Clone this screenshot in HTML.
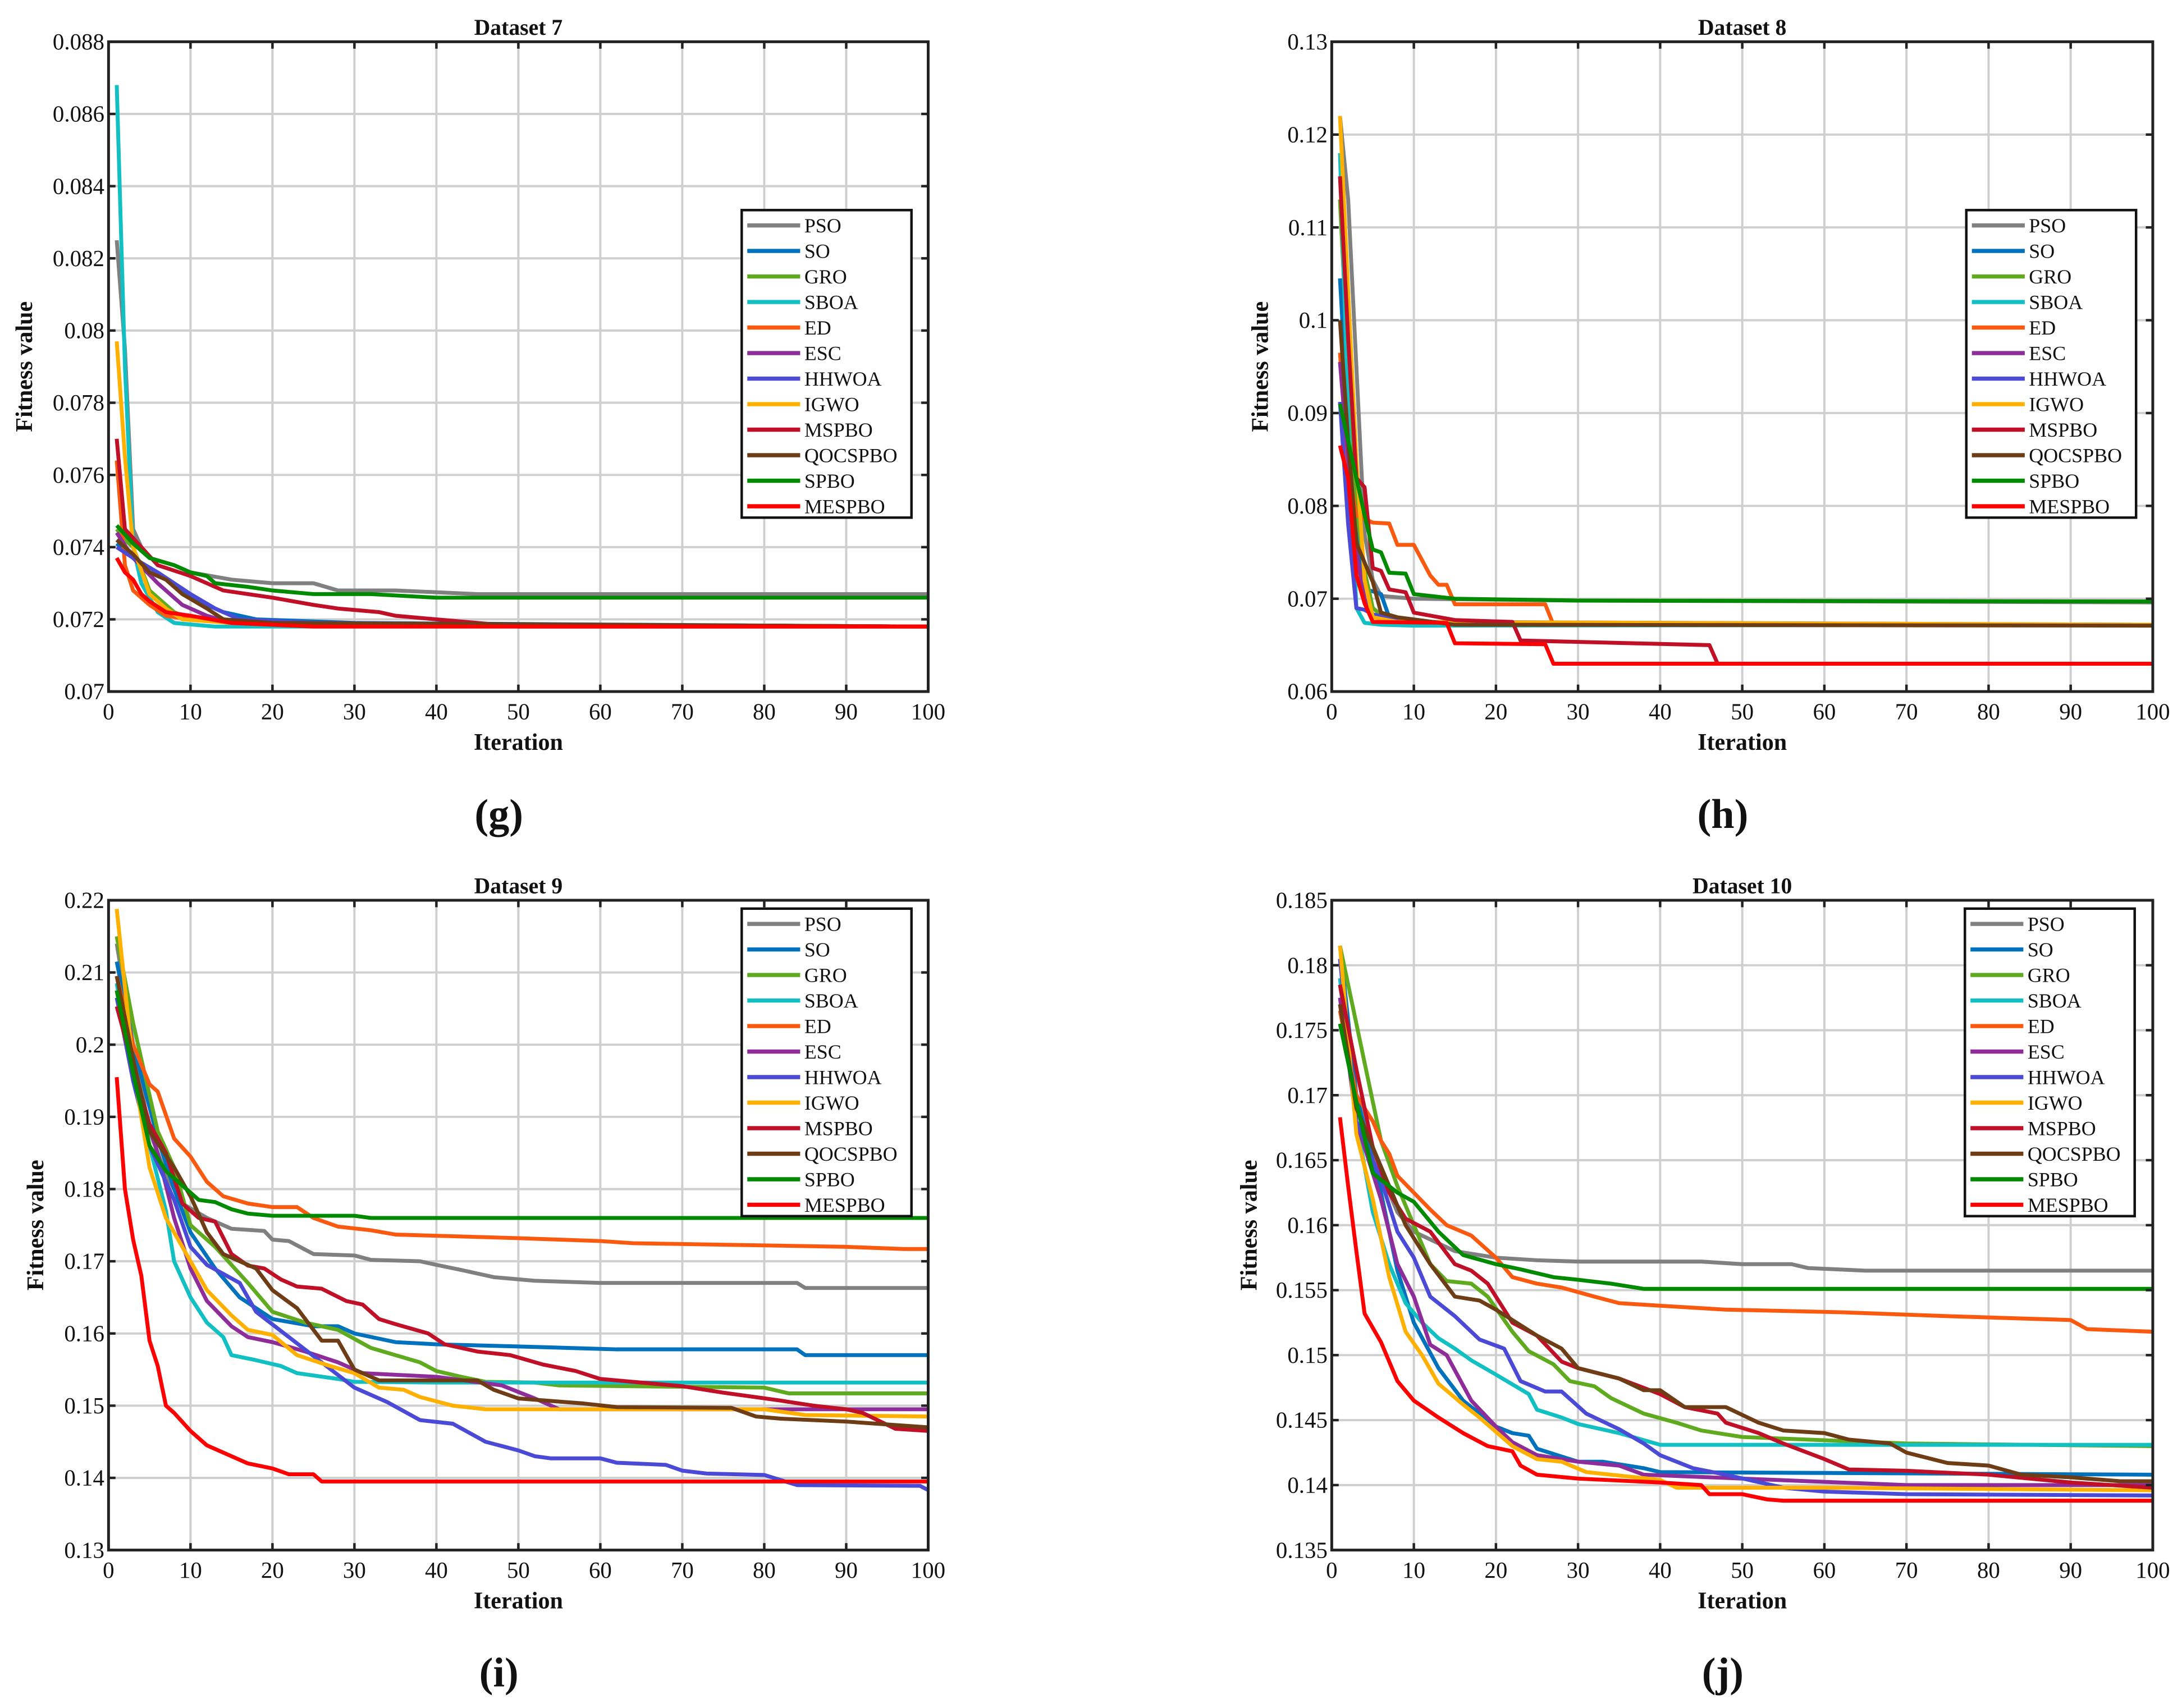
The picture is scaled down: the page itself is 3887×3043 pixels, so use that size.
<!DOCTYPE html>
<html><head><meta charset="utf-8">
<style>
html,body{margin:0;padding:0;background:#fff;}
svg{display:block;}
text{font-family:"Liberation Serif","DejaVu Serif",serif;fill:#111;}
</style></head>
<body>
<svg id="fig" xmlns="http://www.w3.org/2000/svg" width="3887" height="3043" viewBox="0 0 1568 1227.5" preserveAspectRatio="none"></svg>
<script>
const algoNames = ["PSO","SO","GRO","SBOA","ED","ESC","HHWOA","IGWO","MSPBO","QOCSPBO","SPBO","MESPBO"];
const algoColors = ["#808080","#0072BD","#5FAA1E","#12C0C4","#FA5A0F","#8E2C9A","#4A4AD6","#FFB000","#C01028","#6E3D15","#008A00","#FF0000"];

// Dataset 7: iterations and fitness values per algorithm
const d7Iter = [
 [1,2,3,4,5,8,10,15,20,25,28,35,45,100],
 [1,3,6,10,14,18,30,100],
 [1,2,3,5,8,10,20,100],
 [1,2,3,4,6,8,13,100],
 [1,2,3,5,7,10,20,100],
 [1,3,6,9,12,15,100],
 [1,3,6,10,13,16,25,100],
 [1,2,3,5,7,9,15,100],
 [1,2,4,6,10,12,14,17,20,25,28,33,35,45,50,100],
 [1,3,5,7,9,12,14,20,100],
 [1,3,5,8,10,12,13,17,20,25,32,40,100],
 [1,2,3,4,5,7,10,15,25,100]];
const d7Val = [
 [.0825,.0795,.0745,.0740,.0737,.0735,.0733,.0731,.0730,.0730,.0728,.0728,.0727,.0727],
 [.0741,.0737,.0733,.0726,.0722,.0720,.0719,.0718],
 [.0745,.0742,.0740,.0728,.0722,.0720,.0719,.0718],
 [.0868,.0790,.0740,.0730,.0722,.0719,.0718,.0718],
 [.0764,.0735,.0728,.0724,.0721,.0720,.0719,.0718],
 [.0744,.0737,.0730,.0724,.0721,.0719,.0718],
 [.0740,.0737,.0733,.0727,.0723,.0720,.0719,.0718],
 [.0797,.0765,.0740,.0727,.0723,.0720,.0719,.0718],
 [.0770,.0745,.0740,.0735,.0732,.0730,.0728,.0727,.0726,.0724,.0723,.0722,.0721,.0719,.0718,.0718],
 [.0742,.0738,.0733,.0731,.0727,.0723,.0720,.0719,.0718],
 [.0746,.0741,.0737,.0735,.0733,.0732,.0730,.0729,.0728,.0727,.0727,.0726,.0726],
 [.0737,.0733,.0731,.0727,.0725,.0722,.0721,.0719,.0718,.0718]];
const d7Ticks = ["0.07","0.072","0.074","0.076","0.078","0.08","0.082","0.084","0.086","0.088"];

// Dataset 8
const d8Iter = [
 [1,2,3,4,5,6,10,30,100],
 [1,2,3,4,5,6,7,10,100],
 [1,2,3,4,5,7,10,100],
 [1,2,3,4,6,10,100],
 [1,2,3,5,7,8,10,12,13,14,15,26,27,100],
 [1,2,3,4,5,8,15,100],
 [1,2,3,4,5,8,12,100],
 [1,2,3,4,5,8,100],
 [1,2,3,4,5,6,7,9,10,15,22,23,46,47,100],
 [1,2,3,5,6,8,15,100],
 [1,2,3,4,5,6,7,9,10,15,30,100],
 [1,2,3,4,5,14,15,26,27,100]];
const d8Val = [
 [.122,.113,.095,.077,.072,.0703,.0700,.0698,.0696],
 [.1045,.089,.078,.071,.0708,.0705,.068,.0673,.0672],
 [.113,.095,.080,.073,.069,.0675,.0672,.0672],
 [.118,.090,.069,.0674,.0672,.0671,.0672],
 [.0965,.084,.079,.0782,.0781,.0758,.0758,.0725,.0715,.0715,.0694,.0694,.0672,.0672],
 [.0955,.085,.075,.070,.0683,.0678,.0673,.0672],
 [.0912,.078,.069,.0688,.0683,.0678,.0675,.0672],
 [.122,.103,.085,.072,.068,.0675,.0672],
 [.1155,.098,.083,.082,.0733,.0730,.0710,.0707,.0685,.0677,.0675,.0655,.0650,.0630,.0630],
 [.100,.087,.076,.0718,.0685,.0680,.0672,.0671],
 [.091,.087,.083,.079,.0753,.0750,.0728,.0727,.0705,.0700,.0698,.0697],
 [.0865,.083,.0725,.0695,.0675,.0674,.0652,.0651,.0630,.0630]];
const d8Ticks = ["0.06","0.07","0.08","0.09","0.1","0.11","0.12","0.13"];

// Dataset 9
const d9Iter = [
 [1,3,5,7,9,12,15,19,20,22,25,30,32,38,40,43,47,52,60,84,85,100],
 [1,3,6,8,10,13,16,20,25,28,30,35,40,50,62,84,85,100],
 [1,3,6,8,10,13,17,20,24,28,32,35,38,40,43,46,52,55,80,83,100],
 [1,3,5,7,8,10,12,14,15,18,21,23,28,30,40,100],
 [1,3,5,6,8,10,12,14,17,20,23,25,28,32,35,50,60,64,80,90,97,100],
 [1,4,6,8,10,12,15,17,20,24,28,31,40,48,52,55,100],
 [1,3,5,8,10,12,16,18,22,26,30,34,38,42,46,50,52,54,60,62,68,70,73,80,84,99,100],
 [1,3,5,7,10,12,15,17,20,23,27,30,33,36,38,42,46,80,85,100],
 [1,3,5,7,9,11,13,15,17,19,21,23,26,29,31,33,35,39,41,45,49,53,57,60,64,70,75,82,86,90,92,96,100],
 [1,3,5,8,10,12,14,18,20,23,26,28,30,33,45,47,50,58,62,76,79,82,90,100],
 [1,3,5,7,9,11,13,15,17,20,30,32,100],
 [1,2,3,4,5,6,7,8,10,12,15,17,20,22,25,26,100]];
const d9Val = [
 [.214,.200,.188,.182,.178,.176,.1745,.1742,.173,.1728,.171,.1708,.1702,.170,.1695,.1688,.1678,.1673,.1670,.1670,.1663,.1663],
 [.2115,.200,.187,.180,.174,.169,.165,.162,.161,.161,.160,.1588,.1585,.1582,.1578,.1578,.1570,.1570],
 [.215,.203,.188,.183,.175,.172,.167,.163,.1615,.1605,.158,.157,.156,.1548,.154,.1533,.1532,.1528,.1525,.1517,.1517],
 [.2085,.195,.186,.177,.170,.165,.1615,.1595,.157,.1563,.1555,.1545,.1537,.1533,.1532,.1532],
 [.2095,.200,.1945,.1935,.187,.1845,.181,.179,.178,.1775,.1775,.176,.1748,.1743,.1737,.1732,.1728,.1725,.1722,.172,.1717,.1717],
 [.2075,.192,.185,.176,.169,.1645,.161,.1595,.1588,.1575,.156,.1545,.154,.1528,.151,.1495,.1495],
 [.2065,.195,.186,.1785,.172,.1695,.167,.163,.1595,.156,.1525,.1505,.148,.1475,.145,.1438,.143,.1427,.1427,.1421,.1418,.141,.1406,.1404,.139,.1389,.1383],
 [.2188,.197,.183,.176,.170,.166,.1625,.1605,.1598,.157,.1555,.1545,.1525,.1522,.1512,.150,.1495,.1495,.1487,.1485],
 [.2053,.197,.189,.185,.178,.176,.1755,.171,.1694,.169,.1675,.1665,.1662,.1645,.164,.162,.1613,.160,.1585,.1575,.157,.1557,.1548,.1537,.1533,.1527,.1518,.1507,.150,.1495,.149,.1468,.1465],
 [.2095,.198,.188,.183,.179,.174,.171,.169,.166,.1635,.159,.159,.155,.1535,.1535,.1522,.151,.1503,.1498,.1497,.1485,.1482,.1478,.147],
 [.2075,.196,.186,.1825,.1805,.1785,.1782,.1772,.1766,.1763,.1763,.176,.176],
 [.1955,.180,.173,.168,.159,.1555,.150,.149,.1465,.1445,.143,.142,.1413,.1405,.1405,.1395,.1395]];
const d9Ticks = ["0.13","0.14","0.15","0.16","0.17","0.18","0.19","0.2","0.21","0.22"];

// Dataset 10
const d10Iter = [
 [1,3,6,8,10,15,20,25,30,45,50,56,58,65,100],
 [1,3,6,8,10,13,16,18,20,22,24,25,30,33,38,40,100],
 [1,2,4,6,8,10,12,14,17,19,22,24,27,29,32,34,38,42,45,50,70,100],
 [1,3,5,7,9,11,13,15,17,20,24,25,28,30,35,40,100],
 [1,3,5,6,7,8,10,12,14,17,20,22,25,28,32,35,40,48,62,75,90,92,100],
 [1,3,6,8,10,12,14,17,20,22,25,30,35,38,50,70,100],
 [1,3,6,8,10,12,15,18,21,23,26,28,31,35,38,40,44,48,55,60,70,100],
 [1,3,5,7,9,11,13,16,18,22,25,28,31,40,42,60,100],
 [1,3,5,7,9,12,15,17,19,22,25,28,30,35,40,43,47,48,52,55,60,63,70,80,90,100],
 [1,3,6,9,12,15,18,20,25,28,30,35,38,40,43,48,52,55,60,63,68,70,75,80,84,90,96,100],
 [1,3,5,8,10,13,16,20,23,27,30,34,38,100],
 [1,2,3,4,6,8,10,13,16,19,22,23,25,30,40,45,46,50,53,55,100]];
const d10Val = [
 [.1785,.170,.164,.161,.1595,.158,.1575,.1573,.1572,.1572,.157,.157,.1567,.1565,.1565],
 [.1815,.170,.1625,.1565,.1525,.149,.1465,.1455,.1445,.144,.1438,.1428,.1418,.1418,.1413,.141,.1408],
 [.1815,.1785,.1725,.1665,.163,.160,.157,.1557,.1555,.1545,.1518,.1503,.1493,.148,.1476,.1467,.1455,.1448,.1442,.1437,.1432,.143],
 [.179,.168,.161,.157,.154,.1525,.1513,.1505,.1496,.1485,.147,.1458,.1452,.1447,.144,.1431,.1431],
 [.1765,.170,.168,.1665,.1655,.1638,.1625,.1612,.160,.1592,.1575,.156,.1555,.1552,.1545,.154,.1538,.1535,.1533,.153,.1527,.152,.1518],
 [.1775,.168,.162,.157,.1545,.1508,.150,.1465,.1445,.1433,.1423,.1418,.1415,.1408,.1405,.140,.140],
 [.1805,.168,.1635,.1595,.1575,.1545,.153,.1512,.1505,.148,.1472,.1472,.1455,.1443,.1432,.1423,.1413,.1408,.1398,.1395,.1393,.1392],
 [.1815,.167,.162,.156,.1518,.150,.1478,.1462,.1452,.143,.142,.1418,.141,.1404,.1398,.1398,.1396],
 [.1785,.172,.166,.1625,.1605,.1595,.157,.1565,.1555,.1525,.1515,.1495,.149,.1482,.147,.146,.1455,.1448,.144,.1432,.142,.1412,.1411,.1408,.1402,.1398],
 [.177,.169,.1645,.160,.157,.1545,.1542,.1535,.1515,.1505,.149,.1482,.1473,.1473,.146,.146,.1448,.1442,.144,.1435,.1432,.1425,.1417,.1415,.1408,.1406,.1403,.1403],
 [.1755,.1695,.164,.1625,.1618,.1595,.1577,.157,.1566,.156,.1558,.1555,.1551,.1551],
 [.1683,.163,.158,.1532,.151,.148,.1465,.1452,.144,.143,.1426,.1415,.1408,.1405,.1402,.140,.1393,.1393,.1389,.1388,.1388]];
const d10Ticks = ["0.135","0.14","0.145","0.15","0.155","0.16","0.165","0.17","0.175","0.18","0.185"];

const xTicks = ["0","10","20","30","40","50","60","70","80","90","100"];

const NS = "http://www.w3.org/2000/svg";
const svg = document.getElementById("fig");
function mk(tag, attrs, parent){
  const e = document.createElementNS(NS, tag);
  for (const k in attrs) e.setAttribute(k, attrs[k]);
  (parent||svg).appendChild(e);
  return e;
}

function drawPanel(p){
  const g = mk("g", {});
  
  
  const L=p.x0, R=p.x1, T=p.y0, B=p.y1;
  const ymin=parseFloat(p.ticks[0]), ymax=parseFloat(p.ticks[p.ticks.length-1]);
  const sx = v => L + (v-0)/(100-0)*(R-L);
  const sy = v => B - (v-ymin)/(ymax-ymin)*(B-T);
  mk("rect",{x:L,y:T,width:R-L,height:B-T,fill:"#fff"},g);
  for (let i=1;i<xTicks.length-1;i++){
    const gl = mk("line",{x1:sx(+xTicks[i]),x2:sx(+xTicks[i]),y1:T,y2:B,stroke:"#cfcfcf","stroke-width":1.6},g);
    
    
  }
  for (let i=1;i<p.ticks.length-1;i++){
    const y = sy(parseFloat(p.ticks[i]));
    const gl = mk("line",{x1:L,x2:R,y1:y,y2:y,stroke:"#cfcfcf","stroke-width":1.6},g);
    
    
  }
  for (let s=0;s<algoNames.length;s++){
    const it=p.iter[s], vals=p.vals[s];
    let d="";
    for (let k=0;k<it.length;k++) d += (k?"L":"M") + sx(it[k]).toFixed(2) + " " + sy(vals[k]).toFixed(2);
    const pl = mk("path",{d:d,fill:"none",stroke:algoColors[s],"stroke-width":2.8,"stroke-linejoin":"round"},g);
    
    
  }
  for (let i=0;i<xTicks.length;i++){
    const x=sx(+xTicks[i]);
    mk("line",{x1:x,x2:x,y1:B,y2:B-5,stroke:"#222","stroke-width":1.8},g);
    mk("line",{x1:x,x2:x,y1:T,y2:T+5,stroke:"#222","stroke-width":1.8},g);
    const t = mk("text",{x:x,y:B+20,"text-anchor":"middle","font-size":16.5},g);
    t.textContent = xTicks[i];
    
    
  }
  for (let i=0;i<p.ticks.length;i++){
    const y=sy(parseFloat(p.ticks[i]));
    mk("line",{x1:L,x2:L+5,y1:y,y2:y,stroke:"#222","stroke-width":1.8},g);
    mk("line",{x1:R,x2:R-5,y1:y,y2:y,stroke:"#222","stroke-width":1.8},g);
    const t = mk("text",{x:L-3,y:y+5.5,"text-anchor":"end","font-size":16.5},g);
    t.textContent = p.ticks[i];
    
    
  }
  const fr = mk("rect",{x:L,y:T,width:R-L,height:B-T,fill:"none",stroke:"#222","stroke-width":2},g);
  
  
  const ti = mk("text",{x:(L+R)/2,y:T-5,"text-anchor":"middle","font-size":16,"font-weight":"bold"},g);
  ti.textContent = p.title;
  
  
  const xl = mk("text",{x:(L+R)/2,y:B+42,"text-anchor":"middle","font-size":17,"font-weight":"bold"},g);
  xl.textContent = "Iteration";
  
  
  const yx = p.ylabX, yy=(T+B)/2;
  const yl = mk("text",{x:yx,y:yy,"text-anchor":"middle","font-size":17,"font-weight":"bold",transform:"rotate(-90 "+yx+" "+yy+")"},g);
  yl.textContent = "Fitness value";
  
  
  const lg = mk("g",{},g);
  
  
  mk("rect",{x:p.lx,y:p.ly,width:122,height:221,fill:"#fff",stroke:"#111","stroke-width":1.8},lg);
  for (let s=0;s<algoNames.length;s++){
    const y = p.ly + 11 + s*18.35;
    const e = mk("g",{},lg);
    
    
    mk("line",{x1:p.lx+4,x2:p.lx+42,y1:y,y2:y,stroke:algoColors[s],"stroke-width":3},e);
    const t = mk("text",{x:p.lx+45,y:y+5,"font-size":14.5},e);
    t.textContent = algoNames[s];
  }
  const sl = mk("text",{x:(L+R)/2 - 14,y:B+98,"text-anchor":"middle","font-size":30,"font-weight":"bold"},g);
  sl.textContent = p.sub;
  
  
}

drawPanel({slug:"dataset-7",title:"Dataset 7",sub:"(g)",x0:78,x1:667,y0:30,y1:497,ticks:d7Ticks,iter:d7Iter,vals:d7Val,lx:533,ly:151,ylabX:23});
drawPanel({slug:"dataset-8",title:"Dataset 8",sub:"(h)",x0:957,x1:1547,y0:30,y1:497,ticks:d8Ticks,iter:d8Iter,vals:d8Val,lx:1413,ly:151,ylabX:911});
drawPanel({slug:"dataset-9",title:"Dataset 9",sub:"(i)",x0:78,x1:667,y0:647,y1:1114,ticks:d9Ticks,iter:d9Iter,vals:d9Val,lx:533,ly:653,ylabX:31});
drawPanel({slug:"dataset-10",title:"Dataset 10",sub:"(j)",x0:957,x1:1547,y0:647,y1:1114,ticks:d10Ticks,iter:d10Iter,vals:d10Val,lx:1412,ly:653,ylabX:903});
</script>
</body></html>
